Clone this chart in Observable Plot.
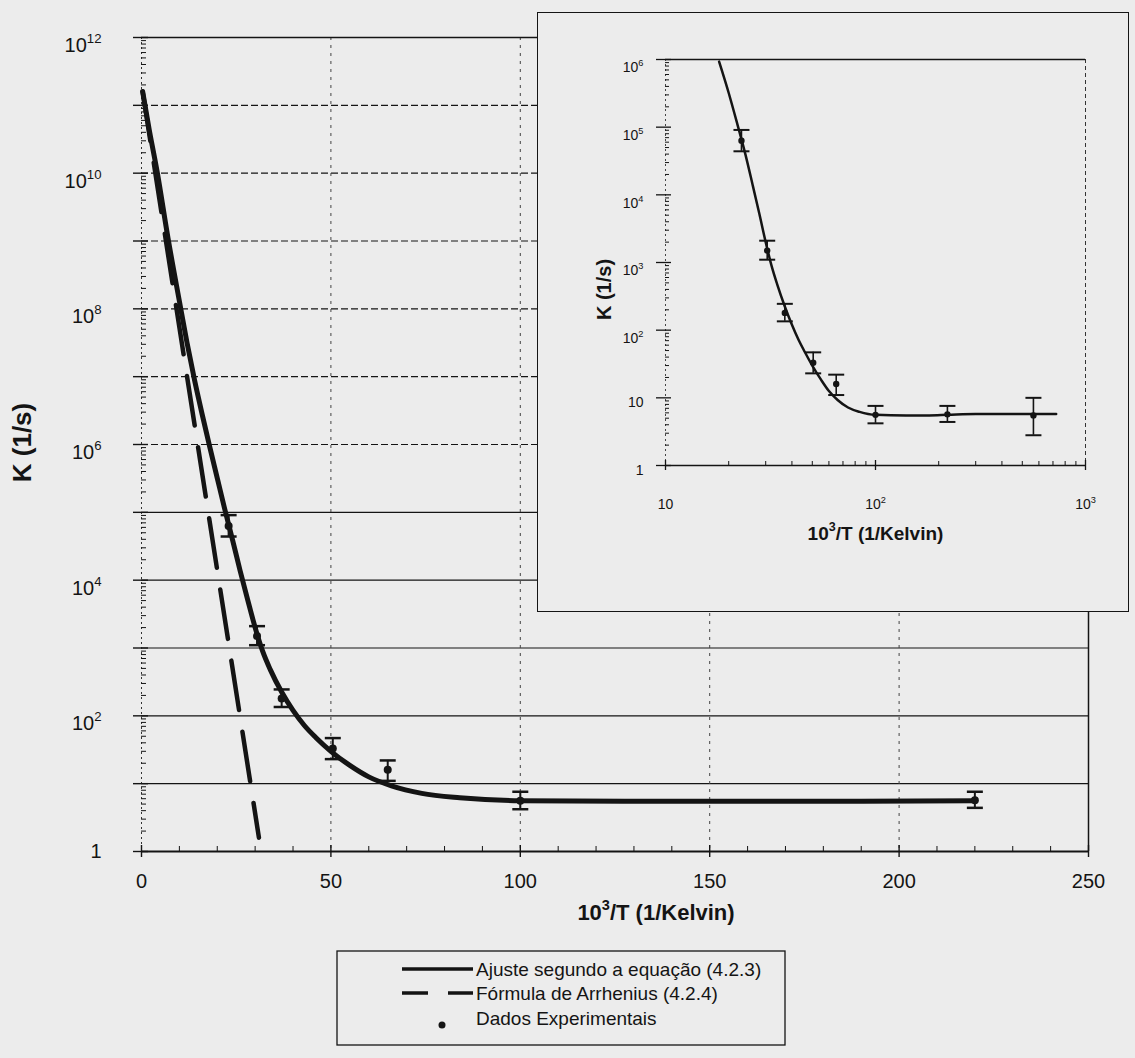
<!DOCTYPE html>
<html>
<head>
<meta charset="utf-8">
<script src="https://cdn.jsdelivr.net/npm/d3@7"></script>
<script src="https://cdn.jsdelivr.net/npm/@observablehq/plot@0.6"></script>
<style>
  html, body { margin: 0; padding: 0; background: #ececec; }
  #page { position: relative; width: 1135px; height: 1058px; overflow: hidden; background: #ececec;
          font-family: "Liberation Sans", Arial, Helvetica, sans-serif; color: #141414; }
  #main { position: absolute; left: 0; top: 0; }
  #inset { position: absolute; left: 537px; top: 12px; width: 590px; height: 598px;
           border: 1.5px solid #151515; background: #ececec; }
  #legend { position: absolute; left: 330px; top: 945px; }
</style>
</head>
<body>
<div id="page">
  <div id="main"></div>
  <div id="inset"></div>
  <div id="legend"></div>
</div>
<script>
// ---------------- data ----------------
// experimental points: 10^3/T (1/Kelvin) and K (1/s) with error-bar limits
const expX     = [23, 30.5, 37, 50.5, 65, 100, 220, 565];
const expK     = [6.3e4, 1.5e3, 180, 33, 16, 5.6, 5.7, 5.5];
const expKLow  = [4.4e4, 1.1e3, 135, 23, 11, 4.2, 4.4, 2.8];
const expKHigh = [9.1e4, 2.1e3, 245, 47, 22, 7.6, 7.6, 10];

// fitted curve, equation (4.2.3)
const fitX = [0.3, 2, 4.2, 7, 10, 12, 14, 16, 18, 20, 22, 24, 26, 28, 30, 32, 34, 37, 40, 43,
              46, 50, 55, 60, 66, 74, 84, 100, 140, 180, 220, 300, 450, 725];
const fitK = [1.6e11, 4.5e10, 1e10, 1.1e9, 1.3e8, 3.2e7, 8.9e6, 2.8e6, 9.3e5, 3.2e5,
              1.1e5, 4.0e4, 1.4e4, 5.2e3, 2.0e3, 890, 480, 224, 120, 72,
              48, 30, 18.6, 12.6, 9.3, 7.2, 6.2, 5.6, 5.5, 5.5, 5.6, 5.75, 5.75, 5.75];

// Arrhenius formula (4.2.4): straight line in the log-linear plot
const arrheniusX = [0.3, 31];
const arrheniusK = [1.6e11, 1.6];

// main chart ticks
const mainXTicks = [0, 50, 100, 150, 200, 250];
const mainXTickLabels = ["0", "50", "100", "150", "200", "250"];
const mainYLabelValues = [1, 1e2, 1e4, 1e6, 1e8, 1e10, 1e12];
const mainYTickLabels = ["1", "10²", "10⁴", "10⁶", "10⁸", "10¹⁰", "10¹²"];
const mainGridDashed = [1e6, 1e7, 1e8, 1e9, 1e10, 1e11];
const mainGridSolid = [10, 1e2, 1e3, 1e4, 1e5];
const mainGridX = [50, 100, 150, 200];

// inset ticks
const insetXTicks = [10, 100, 1000];
const insetXTickLabels = ["10", "10²", "10³"];
const insetYTicks = [1, 10, 1e2, 1e3, 1e4, 1e5, 1e6];
const insetYTickLabels = ["1", "10", "10²", "10³", "10⁴", "10⁵", "10⁶"];

// texts
const xTitle = "10³/T (1/Kelvin)";
const yTitle = "K (1/s)";
const legendLabels = ["Ajuste segundo a equação (4.2.3)", "Fórmula de Arrhenius (4.2.4)", "Dados Experimentais"];

// ---------------- helpers ----------------
const INK = "#141414";
const fitData = fitX.map((x, i) => ({x, k: fitK[i]}));
const arrData = arrheniusX.map((x, i) => ({x, k: arrheniusK[i]}));
const expData = expX.map((x, i) => ({x, k: expK[i], lo: expKLow[i], hi: expKHigh[i]}));
const cap = w => ({draw(ctx) { ctx.moveTo(-w, 0); ctx.lineTo(w, 0); }});
function decadeMinors(from, to) {
  const out = [];
  for (let e = from; e < to; e++) for (let m = 2; m <= 9; m++) out.push(m * Math.pow(10, e));
  return out;
}
const mainYMajor = d3.range(0, 13).map(e => Math.pow(10, e));
const mainYMinor = decadeMinors(0, 12);
const mainXMinor = d3.range(10, 251, 10).filter(v => v % 50 !== 0);
const insetXMinor = decadeMinors(1, 3);
const insetYMinor = decadeMinors(0, 6);
const fmtFrom = (vals, labels) => d => { const i = vals.indexOf(d); return i < 0 ? "" : labels[i]; };
const blank = () => "";
const mainPts = expData.filter(d => d.x <= 250);

// ---------------- main chart ----------------
const mainPlot = Plot.plot({
  width: 1135, height: 945,
  marginLeft: 141, marginRight: 47, marginTop: 37, marginBottom: 94,
  style: {background: "transparent", fontFamily: "'Liberation Sans', Arial, sans-serif", color: INK, overflow: "visible"},
  x: {type: "linear", domain: [0, 250]},
  y: {type: "log", domain: [1, 1e12]},
  marks: [
    Plot.ruleY(mainGridDashed, {stroke: INK, strokeWidth: 1.2, strokeDasharray: "7,3"}),
    Plot.ruleY(mainGridSolid, {stroke: INK, strokeWidth: 1.2}),
    Plot.ruleX(mainGridX, {stroke: "#444", strokeWidth: 1, strokeDasharray: "3,5"}),
    Plot.ruleX([0], {stroke: "#333", strokeWidth: 1, strokeDasharray: "2,3"}),
    Plot.ruleX([250], {stroke: INK, strokeWidth: 1.5}),
    Plot.ruleY([1e12], {stroke: INK, strokeWidth: 1.6}),
    Plot.ruleY([1], {stroke: INK, strokeWidth: 1.8}),
    // axes
    Plot.axisY({ticks: mainYMajor, anchor: "left", tickSize: 15, insetLeft: 7, tickFormat: blank, label: null, stroke: INK, strokeWidth: 1.4}),
    Plot.axisY({ticks: mainYMinor, anchor: "left", tickSize: 5, insetLeft: 5, tickFormat: blank, label: null, stroke: INK}),
    Plot.axisY({ticks: mainYLabelValues, anchor: "left", tickSize: 0, tickPadding: 40, tickFormat: fmtFrom(mainYLabelValues, mainYTickLabels), label: null, fontSize: 20, fill: INK}),
    Plot.axisX({ticks: mainXTicks, anchor: "bottom", tickSize: 12, insetBottom: 6, tickFormat: blank, label: null, stroke: INK, strokeWidth: 1.4}),
    Plot.axisX({ticks: mainXMinor, anchor: "bottom", tickSize: 5, insetBottom: 5, tickFormat: blank, label: null, stroke: INK}),
    Plot.axisX({ticks: mainXTicks, anchor: "bottom", tickSize: 0, tickPadding: 22, tickFormat: fmtFrom(mainXTicks, mainXTickLabels), label: null, fontSize: 20, fill: INK}),
    // data
    Plot.line(arrData, {x: "x", y: "k", stroke: INK, strokeWidth: 4.5, strokeDasharray: "50,22"}),
    Plot.line(fitData.filter(d => d.x <= 220), {x: "x", y: "k", curve: "monotone-x", stroke: INK, strokeWidth: 5}),
    Plot.ruleX(mainPts, {x: "x", y1: "lo", y2: "hi", stroke: INK, strokeWidth: 2}),
    Plot.dot(mainPts, {x: "x", y: "lo", symbol: cap(8), fill: "none", stroke: INK, strokeWidth: 2.5}),
    Plot.dot(mainPts, {x: "x", y: "hi", symbol: cap(8), fill: "none", stroke: INK, strokeWidth: 2.5}),
    Plot.dot(mainPts, {x: "x", y: "k", r: 4, fill: INK, stroke: "none"}),
    // titles
    Plot.text([xTitle], {text: d => d, frameAnchor: "bottom", textAnchor: "middle", lineAnchor: "middle", dx: 41, dy: 61, fontSize: 22, fontWeight: "bold", fill: INK}),
    Plot.text([yTitle], {text: d => d, frameAnchor: "left", textAnchor: "middle", lineAnchor: "middle", rotate: -90, dx: -119, dy: -2, fontSize: 26, fontWeight: "bold", fill: INK})
  ]
});
document.getElementById("main").appendChild(mainPlot);

// ---------------- inset chart ----------------
const insetPlot = Plot.plot({
  width: 590, height: 598,
  marginLeft: 127, marginRight: 43, marginTop: 46, marginBottom: 146,
  style: {background: "transparent", fontFamily: "'Liberation Sans Narrow', 'Liberation Sans', Arial, sans-serif", color: INK, overflow: "visible"},
  x: {type: "log", domain: [10, 1000]},
  y: {type: "log", domain: [1, 1e6]},
  marks: [
    Plot.ruleY([1e6], {stroke: INK, strokeWidth: 1.3}),
    Plot.ruleX([1000], {stroke: "#333", strokeWidth: 1, strokeDasharray: "4,3"}),
    Plot.ruleX([10], {stroke: "#444", strokeWidth: 1, strokeDasharray: "2,3"}),
    Plot.ruleY([1], {stroke: INK, strokeWidth: 1.6}),
    Plot.axisY({ticks: insetYTicks, anchor: "left", tickSize: 15, insetLeft: 6, tickFormat: blank, label: null, stroke: INK, strokeWidth: 1.3}),
    Plot.axisY({ticks: insetYMinor, anchor: "left", tickSize: 4, insetLeft: 4, tickFormat: blank, label: null, stroke: INK}),
    Plot.axisY({ticks: insetYTicks, anchor: "left", tickSize: 0, tickPadding: 22, dy: 5, tickFormat: fmtFrom(insetYTicks, insetYTickLabels), label: null, fontSize: 14, fill: INK}),
    Plot.axisX({ticks: insetXTicks, anchor: "bottom", tickSize: 10, insetBottom: 5, tickFormat: blank, label: null, stroke: INK, strokeWidth: 1.3}),
    Plot.axisX({ticks: insetXMinor, anchor: "bottom", tickSize: 4, insetBottom: 4, tickFormat: blank, label: null, stroke: INK}),
    Plot.axisX({ticks: insetXTicks, anchor: "bottom", tickSize: 0, tickPadding: 34, tickFormat: fmtFrom(insetXTicks, insetXTickLabels), label: null, fontSize: 14, fill: INK}),
    Plot.line(fitData.filter(d => d.x >= 18), {x: "x", y: "k", curve: "monotone-x", stroke: INK, strokeWidth: 2.5}),
    Plot.ruleX(expData, {x: "x", y1: "lo", y2: "hi", stroke: INK, strokeWidth: 1.6}),
    Plot.dot(expData, {x: "x", y: "lo", symbol: cap(8), fill: "none", stroke: INK, strokeWidth: 2}),
    Plot.dot(expData, {x: "x", y: "hi", symbol: cap(8), fill: "none", stroke: INK, strokeWidth: 2}),
    Plot.dot(expData, {x: "x", y: "k", r: 3.2, fill: INK, stroke: "none"}),
    Plot.text([xTitle], {text: d => d, frameAnchor: "bottom", textAnchor: "middle", lineAnchor: "middle", dy: 68, fontSize: 19, fontWeight: "bold", fill: INK, fontFamily: "'Liberation Sans', Arial, sans-serif"}),
    Plot.text([yTitle], {text: d => d, frameAnchor: "left", textAnchor: "middle", lineAnchor: "middle", rotate: -90, dx: -61, dy: 27, fontSize: 20, fontWeight: "bold", fill: INK, fontFamily: "'Liberation Sans', Arial, sans-serif"})
  ]
});
document.getElementById("inset").appendChild(insetPlot);

// ---------------- superscripts as real tspans ----------------
const supMap = {"⁰":"0","¹":"1","²":"2","³":"3","⁴":"4","⁵":"5","⁶":"6","⁷":"7","⁸":"8","⁹":"9"};
function supify(svg, yBaseShift) {
  d3.select(svg).selectAll("text").each(function() {
    if (this.querySelector("tspan")) return;
    const s = this.textContent;
    const m = s.match(/^([^⁰¹²³⁴⁵⁶⁷⁸⁹]*)([⁰¹²³⁴⁵⁶⁷⁸⁹]+)(.*)$/);
    if (!m) return;
    const fs = parseFloat(getComputedStyle(this).fontSize) || 16;
    const g = this.closest("g[aria-label]");
    const isY = g && /y-axis/.test(g.getAttribute("aria-label"));
    const base = isY && !m[3] ? yBaseShift * fs : 0;
    const sup = m[2].split("").map(c => supMap[c]).join("");
    const el = d3.select(this);
    el.text(null);
    el.append("tspan").attr("dy", base).text(m[1]);
    el.append("tspan").attr("dy", -0.45 * fs).attr("font-size", 0.66 * fs).text(sup);
    if (m[3]) el.append("tspan").attr("dy", 0.45 * fs).text(m[3]);
  });
}
supify(mainPlot, 0.4);
supify(insetPlot, 0.25);

// ---------------- legend ----------------
const lg = d3.select("#legend").append("svg").attr("width", 470).attr("height", 113)
  .style("font-family", "'Liberation Sans', Arial, sans-serif");
lg.append("rect").attr("x", 7).attr("y", 6).attr("width", 448).attr("height", 94)
  .attr("fill", "#ececec").attr("stroke", INK).attr("stroke-width", 1.3);
const rowY = [24, 48, 73];
lg.append("line").attr("x1", 72).attr("x2", 143).attr("y1", rowY[0]).attr("y2", rowY[0])
  .attr("stroke", INK).attr("stroke-width", 3.5);
lg.append("line").attr("x1", 72).attr("x2", 143).attr("y1", rowY[1]).attr("y2", rowY[1])
  .attr("stroke", INK).attr("stroke-width", 3.5).attr("stroke-dasharray", "26,20");
lg.append("circle").attr("cx", 112).attr("cy", rowY[2] + 7).attr("r", 3.5).attr("fill", INK);
legendLabels.forEach((t, i) => {
  lg.append("text").attr("x", 146).attr("y", rowY[i]).attr("dy", "0.35em")
    .attr("font-size", 19).attr("fill", INK).text(t);
});
</script>
</body>
</html>
